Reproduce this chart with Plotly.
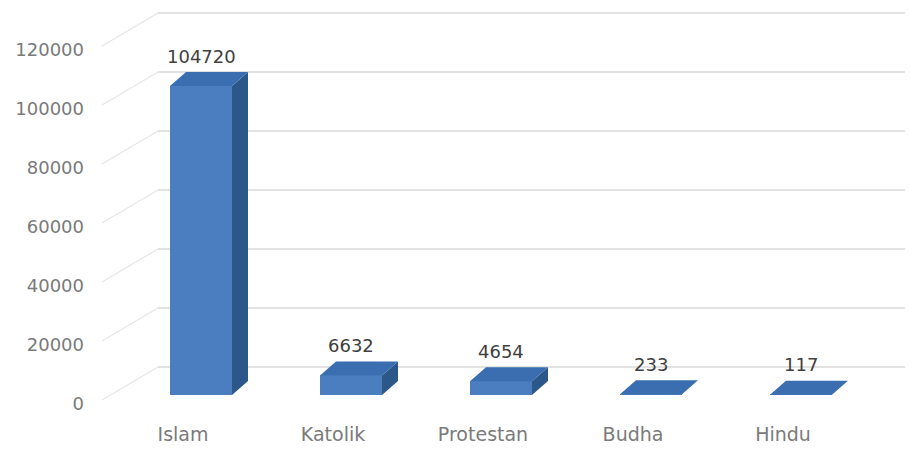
import plotly.graph_objects as go

categories = ["Islam", "Katolik", "Protestan", "Budha", "Hindu"]
values = [104720, 6632, 4654, 233, 117]
tick_values = [0, 20000, 40000, 60000, 80000, 100000, 120000]
tick_labels = ["0", "20000", "40000", "60000", "80000", "100000", "120000"]

# ---- geometry (pixel-based, converted to data units) ----
W, H = 910, 450
ML, MR, MT, MB = 100, 0, 0, 29
px_per_cat = 150.0
px_per_val = 59.0 / 20000.0
bar_center0 = 201.0          # pixel x of first bar's front centre
zero_py = 395.0              # pixel y of value 0 on bar front plane

x0 = (ML - bar_center0) / px_per_cat
x1 = (W - MR - bar_center0) / px_per_cat
y1 = (zero_py - MT) / px_per_val
y0 = (zero_py - (H - MB)) / px_per_val

def dxu(px):
    return px / px_per_cat

def dyu(px):
    return px / px_per_val

bar_w = dxu(62)
side_dx = dxu(16)
side_dy = dyu(14)

front_col = "#4a7ec0"
side_col = "#2c5789"
top_col = "#3a6eb0"

fig = go.Figure()

xs = list(range(len(categories)))
fig.add_trace(go.Bar(x=xs, y=values, width=bar_w, marker=dict(color=front_col, line=dict(width=0)),
                     hoverinfo="skip", showlegend=False))

for i, v in zip(xs, values):
    l, r = i - bar_w / 2, i + bar_w / 2
    # side face
    fig.add_trace(go.Scatter(x=[r, r + side_dx, r + side_dx, r, r],
                             y=[0, side_dy, v + side_dy, v, 0],
                             fill="toself", fillcolor=side_col, mode="lines",
                             line=dict(width=0, color=side_col), hoverinfo="skip", showlegend=False))
    # top face
    fig.add_trace(go.Scatter(x=[l, r, r + side_dx, l + side_dx, l],
                             y=[v, v, v + side_dy, v + side_dy, v],
                             fill="toself", fillcolor=top_col, mode="lines",
                             line=dict(width=0, color=top_col), hoverinfo="skip", showlegend=False))

# back wall gridlines and side-wall diagonals
back_dy = dyu(28)
wall_left = x0 + dxu(158 - ML)
front_edge_x = x0 + dxu(102 - ML)
front_dy = dyu(-5)
shapes = []
for tv in tick_values:
    shapes.append(dict(type="line", xref="x", yref="y", layer="below",
                       x0=wall_left, x1=x0 + dxu(905 - ML), y0=tv + back_dy, y1=tv + back_dy,
                       line=dict(color="#d9d9d9", width=1.5)))
    shapes.append(dict(type="line", xref="x", yref="y", layer="below",
                       x0=front_edge_x, x1=wall_left, y0=tv + front_dy, y1=tv + back_dy,
                       line=dict(color="#e6e6e6", width=1.2)))
fig.update_layout(shapes=shapes)

# data labels
for i, v in zip(xs, values):
    fig.add_annotation(x=i, y=v, text=str(v), showarrow=False, yshift=30, xshift=0,
                       font=dict(family="DejaVu Sans", size=18, color="#404040"))

fig.update_layout(
    width=W, height=H,
    margin=dict(l=ML, r=MR, t=MT, b=MB),
    paper_bgcolor="white", plot_bgcolor="white",
    xaxis=dict(range=[x0, x1], tickvals=xs, ticktext=categories, showgrid=False, zeroline=False,
               showline=False, ticks="", ticklabelshift=-18, ticklabelstandoff=0,
               tickfont=dict(family="DejaVu Sans", size=19, color="#7a7a7a"), fixedrange=True),
    yaxis=dict(range=[y0, y1], tickvals=tick_values, ticktext=tick_labels, showgrid=False,
               zeroline=False, showline=False, ticks="", ticklabelshift=9, ticklabelstandoff=15,
               tickfont=dict(family="DejaVu Sans", size=18, color="#7a7a7a"), fixedrange=True),
    bargap=0,
)

fig.write_html("out.html", post_script="document.body.style.margin='0';",
               config={"displayModeBar": False})
